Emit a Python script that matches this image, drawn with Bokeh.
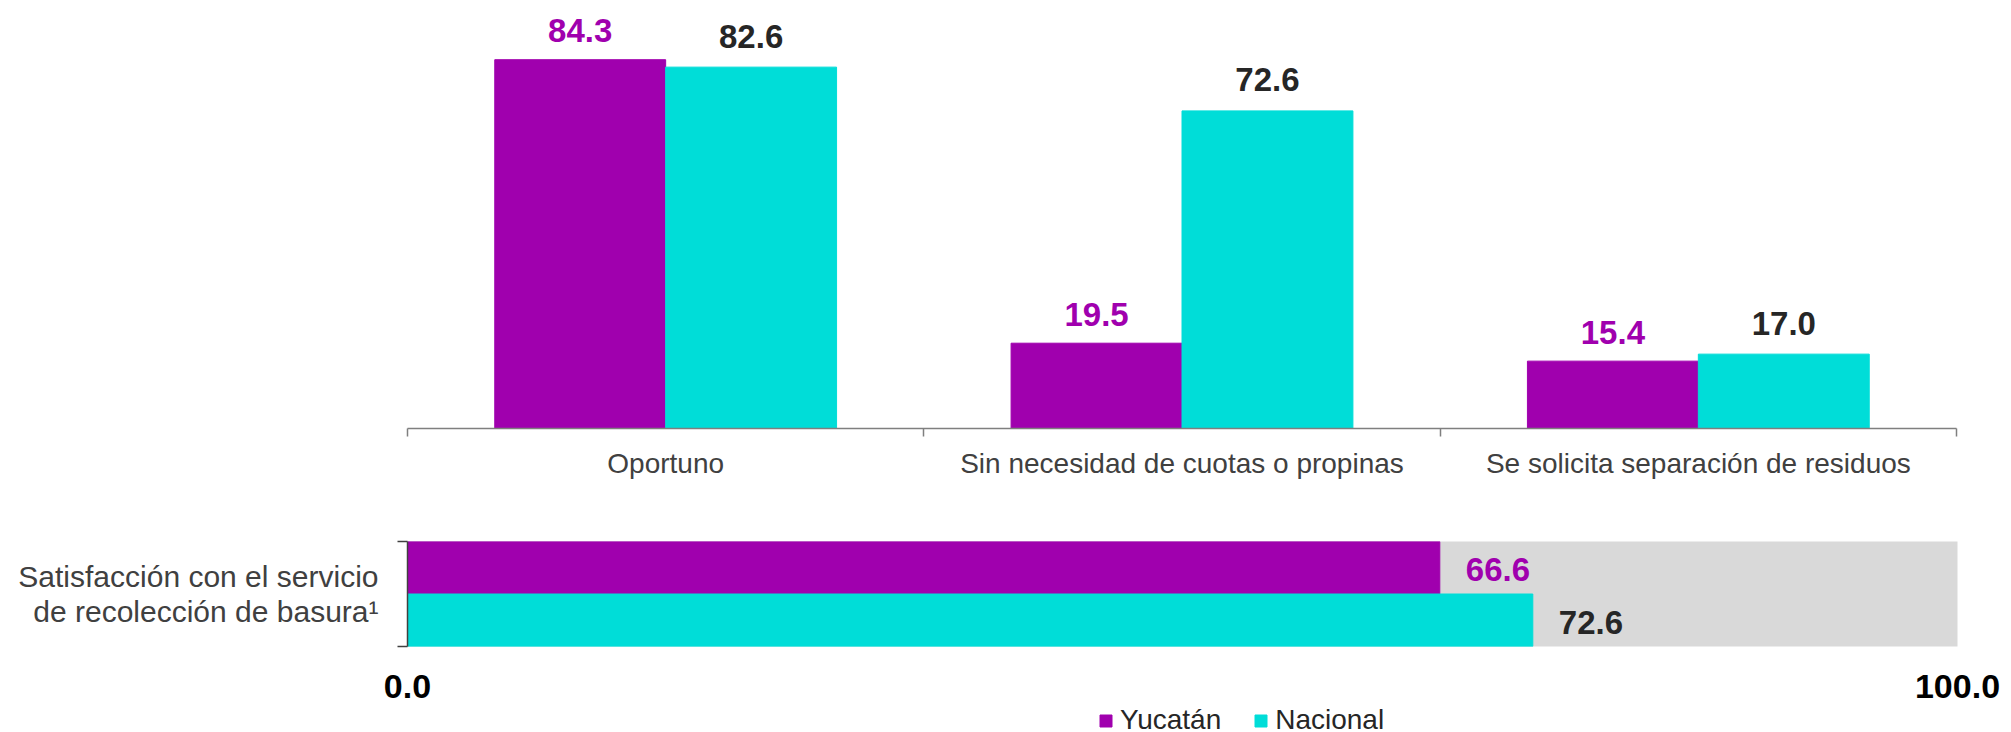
from bokeh.plotting import figure
from bokeh.models import FixedTicker, Range1d, Legend, LegendItem, ColumnDataSource, NumeralTickFormatter
from bokeh.layouts import column
from bokeh.embed import file_html
from bokeh.resources import INLINE
from bokeh.core.properties import value

# ---------------- data ----------------
categories = ["Oportuno", "Sin necesidad de cuotas o propinas", "Se solicita separación de residuos"]
yucatan = [84.3, 19.5, 15.4]
nacional = [82.6, 72.6, 17.0]
series = ["Yucatán", "Nacional"]
sat_label = "Satisfacción con el servicio\nde recolección de basura¹"
sat_values = [66.6, 72.6]          # Yucatán, Nacional
sat_ticks = [0, 100]

PURPLE = "#A000AE"
CYAN = "#00DDD8"
GRAY = "#D9D9D9"
DARK = "#262626"
FONT = "Liberation Sans"
colors = [PURPLE, CYAN]

LEFT = 407
W_TOTAL = 2011
FW2 = 1550

n = len(categories)
centers = [i + 0.5 for i in range(n)]
bw = 0.331
src = ColumnDataSource(dict(
    yx=[c - bw / 2 for c in centers],
    nx=[c + bw / 2 for c in centers],
    y=yucatan, n=nacional,
    ylab=[f"{v:.1f}" for v in yucatan],
    nlab=[f"{v:.1f}" for v in nacional],
))

# ---------------- top chart ----------------
p1 = figure(frame_width=1549, frame_height=420,
            min_border_left=LEFT, min_border_right=47, min_border_top=8, min_border_bottom=70,
            x_range=Range1d(0, n), y_range=Range1d(0, 96),
            y_axis_location=None,
            output_backend="svg", toolbar_location=None)
p1.outline_line_color = None
p1.grid.visible = False
p1.vbar(x="yx", top="y", width=bw, source=src, color=PURPLE)
p1.vbar(x="nx", top="n", width=bw, source=src, color=CYAN)
common = dict(source=src, text_align="center", text_baseline="alphabetic",
              text_font=value(FONT), text_font_style="bold", text_font_size="33px")
p1.text(x="yx", y="y", text="ylab", y_offset=-29, text_color=PURPLE, **common)
p1.text(x="nx", y="n", text="nlab", y_offset=-31, text_color=DARK, **common)

ax = p1.xaxis[0]
ax.ticker = FixedTicker(ticks=centers, minor_ticks=list(range(n + 1)))
ax.major_label_overrides = {c: cat for c, cat in zip(centers, categories)}
ax.major_tick_line_color = None
ax.major_tick_out = 0
ax.major_tick_in = 0
ax.minor_tick_in = 0
ax.minor_tick_out = 8
ax.minor_tick_line_color = "#7F7F7F"
ax.minor_tick_line_width = 1.5
ax.axis_line_color = "#7F7F7F"
ax.axis_line_width = 1.5
ax.major_label_standoff = 11
ax.major_label_text_font = FONT
ax.major_label_text_font_size = "28px"
ax.major_label_text_color = "#404040"

# ---------------- bottom chart ----------------
ypos = [len(series) - i - 0.5 for i in range(len(series))]
src2 = ColumnDataSource(dict(y=ypos, v=sat_values, lab=[f"{v:.1f}" for v in sat_values],
                             tcolor=[PURPLE, DARK]))

p2 = figure(frame_width=FW2, frame_height=105,
            min_border_left=LEFT, min_border_right=W_TOTAL - LEFT - FW2,
            min_border_top=43, min_border_bottom=56,
            x_range=Range1d(sat_ticks[0], sat_ticks[-1]), y_range=Range1d(0, len(series)),
            output_backend="svg", toolbar_location=None)
p2.outline_line_color = None
p2.grid.visible = False
p2.background_fill_color = GRAY
for i in range(len(series)):
    p2.hbar(y=[ypos[i]], right=[sat_values[i]], left=0, height=1, color=colors[i])
p2.text(x="v", y="y", text="lab", source=src2, x_offset=26, y_offset=2,
        text_align="left", text_baseline="alphabetic", text_color="tcolor",
        text_font=value(FONT), text_font_style="bold", text_font_size="33px")

ya = p2.yaxis[0]
ya.ticker = FixedTicker(ticks=[len(series) / 2], minor_ticks=[0, len(series)])
ya.major_label_overrides = {len(series) / 2: sat_label}
ya.major_tick_line_color = None
ya.major_tick_out = 0
ya.major_tick_in = 0
ya.minor_tick_in = 0
ya.minor_tick_out = 10
ya.minor_tick_line_color = "#404040"
ya.minor_tick_line_width = 1.5
ya.axis_line_color = "#404040"
ya.axis_line_width = 1.5
ya.major_label_standoff = 19
ya.major_label_text_font = FONT
ya.major_label_text_font_size = "30px"
ya.major_label_text_color = "#404040"
ya.major_label_text_line_height = 1.05
ya.major_label_orientation = "horizontal"

xa = p2.xaxis[0]
xa.ticker = FixedTicker(ticks=sat_ticks)
xa.formatter = NumeralTickFormatter(format="0.0")
xa.axis_line_color = None
xa.major_tick_line_color = None
xa.major_tick_out = 0
xa.major_tick_in = 0
xa.minor_tick_line_color = None
xa.minor_tick_out = 0
xa.minor_tick_in = 0
xa.major_label_standoff = 28
xa.major_label_text_font = FONT
xa.major_label_text_font_style = "bold"
xa.major_label_text_font_size = "34px"
xa.major_label_text_color = "black"

# ---------------- legend strip ----------------
p3 = figure(frame_width=1995, frame_height=30, min_border=0,
            x_range=Range1d(sat_ticks[0], sat_ticks[-1]), y_range=Range1d(0, len(series)),
            x_axis_location=None, y_axis_location=None,
            output_backend="svg", toolbar_location=None)
p3.outline_line_color = None
p3.grid.visible = False
leg_r = []
for i in range(len(series)):
    r = p3.hbar(y=[ypos[i]], right=[sat_values[i]], left=0, height=1, color=colors[i])
    r.visible = False
    leg_r.append(r)

legend = Legend(items=[LegendItem(label=series[i], renderers=[leg_r[i]]) for i in range(len(series))],
                orientation="horizontal", location=(1098, -4),
                glyph_width=15, glyph_height=15, label_standoff=7, spacing=32,
                padding=0, margin=0, border_line_color=None, background_fill_alpha=0,
                inactive_fill_alpha=0,
                label_text_font=FONT, label_text_font_size="28px", label_text_color=DARK,
                label_height=15)
p3.add_layout(legend)

layout = column(p1, p2, p3, spacing=0)
open("out.html", "w").write(file_html(layout, INLINE))
